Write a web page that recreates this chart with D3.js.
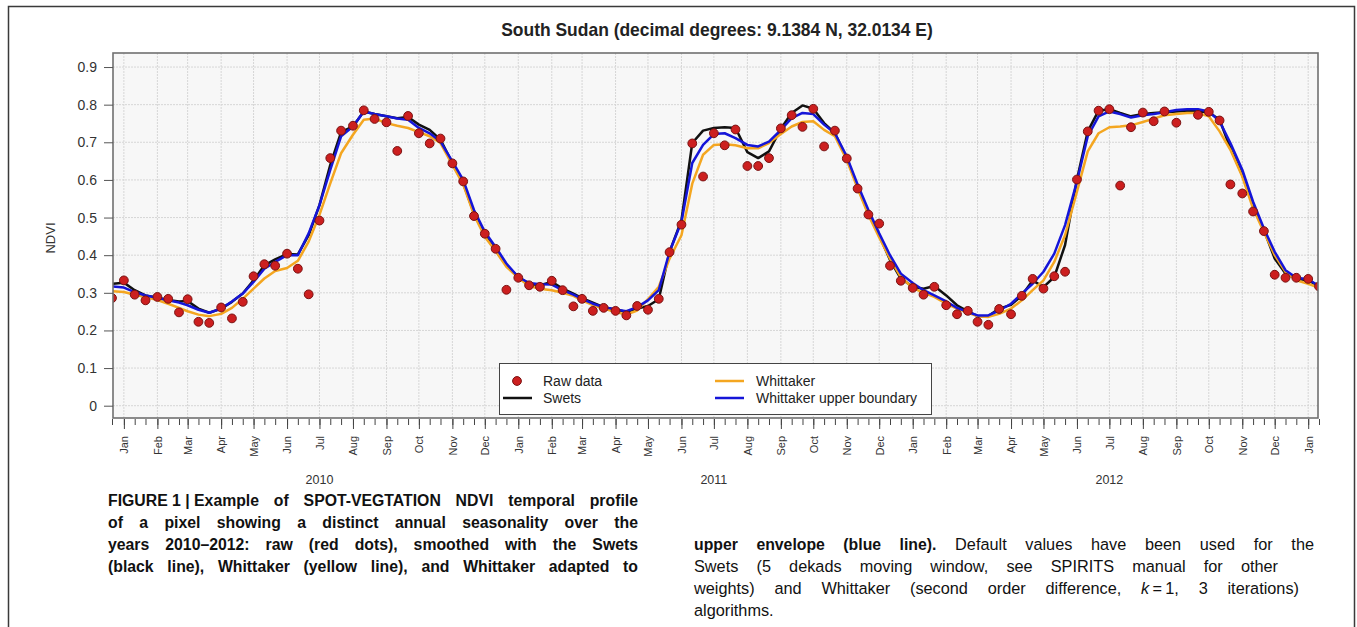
<!DOCTYPE html>
<html><head><meta charset="utf-8">
<script src="https://cdn.jsdelivr.net/npm/d3@7"></script>
<style>
html,body{margin:0;padding:0;background:#fff;}
svg{display:block;font-family:"Liberation Sans",Arial,Helvetica,sans-serif;}
</style></head><body>
<svg id="chart" width="1357" height="627"></svg>
<script>
// ---------------- DATA ----------------
const firstDekad = "2009-12-21";   // dekads: 21 Dec 2009 ... 11 Jan 2013
const chartTitle = "South Sudan (decimal degrees: 9.1384 N, 32.0134 E)";
const yLabel = "NDVI";
const yTicks = [0, 0.1, 0.2, 0.3, 0.4, 0.5, 0.6, 0.7, 0.8, 0.9];
const yearLabels = ["2010", "2011", "2012"];
const seriesNames = ["Raw data", "Swets", "Whittaker", "Whittaker upper boundary"];

const rawData = [0.286,
  0.333,0.295,0.280, 0.289,0.284,0.248, 0.283,0.223,0.220, 0.261,0.232,0.276,
  0.344,0.376,0.372, 0.404,0.364,0.296, 0.492,0.658,0.731, 0.744,0.785,0.762,
  0.753,0.677,0.770, 0.724,0.697,0.710, 0.644,0.596,0.504, 0.457,0.417,0.308,
  0.340,0.320,0.316, 0.332,0.307,0.264, 0.284,0.252,0.260, 0.252,0.240,0.265,
  0.255,0.284,0.408, 0.481,0.697,0.609, 0.724,0.692,0.734, 0.637,0.637,0.658,
  0.737,0.772,0.741, 0.789,0.689,0.731, 0.657,0.577,0.508, 0.484,0.372,0.332,
  0.313,0.295,0.316, 0.267,0.243,0.252, 0.223,0.215,0.257, 0.243,0.292,0.337,
  0.311,0.344,0.356, 0.601,0.729,0.784, 0.788,0.585,0.740, 0.779,0.756,0.782,
  0.752,null,0.773, 0.781,0.758,0.588, 0.564,0.516,0.464, 0.348,0.340,0.340,
  0.337,0.317];

const swets = [0.324,
  0.327,0.307,0.293, 0.287,0.281,0.277, 0.278,0.258,0.247, 0.258,0.276,0.298,
  0.333,0.373,0.389, 0.403,0.402,0.453, 0.533,0.640,0.727, 0.742,0.782,0.775,
  0.769,0.764,0.767, 0.747,0.733,0.707, 0.644,0.591,0.511, 0.453,0.413,0.373,
  0.342,0.324,0.320, 0.329,0.311,0.298, 0.286,0.274,0.262, 0.256,0.249,0.258,
  0.265,0.283,0.409, 0.493,0.698,0.731, 0.738,0.740,0.738, 0.674,0.658,0.676,
  0.736,0.778,0.798, 0.789,0.751,0.724, 0.658,0.582,0.511, 0.453,0.387,0.338,
  0.316,0.311,0.318, 0.293,0.267,0.251, 0.238,0.238,0.258, 0.268,0.293,0.333,
  0.315,0.342,0.427, 0.601,0.729,0.784, 0.788,0.778,0.769, 0.775,0.778,0.780,
  0.782,0.784,0.782, 0.780,0.760,0.684, 0.613,0.533,0.467, 0.391,0.351,0.338,
  0.333,0.318];

const whittaker = [0.304,
  0.302,0.295,0.289, 0.281,0.271,0.260, 0.251,0.242,0.238, 0.244,0.260,0.284,
  0.311,0.338,0.358, 0.366,0.385,0.436, 0.507,0.591,0.671, 0.720,0.760,0.763,
  0.751,0.744,0.738, 0.727,0.716,0.698, 0.640,0.588,0.507, 0.449,0.411,0.369,
  0.340,0.318,0.311, 0.307,0.300,0.292, 0.280,0.267,0.258, 0.249,0.242,0.253,
  0.283,0.316,0.391, 0.453,0.590,0.667, 0.693,0.695,0.692, 0.684,0.684,0.698,
  0.722,0.742,0.754, 0.756,0.733,0.716, 0.653,0.578,0.507, 0.447,0.391,0.342,
  0.313,0.300,0.289, 0.271,0.258,0.247, 0.238,0.236,0.244, 0.258,0.280,0.307,
  0.333,0.382,0.453, 0.569,0.676,0.724, 0.740,0.742,0.745, 0.754,0.763,0.772,
  0.775,0.778,0.778, 0.769,0.729,0.680, 0.609,0.524,0.462, 0.400,0.356,0.333,
  0.324,0.313];

const whittakerUpper = [0.317,
  0.314,0.302,0.293, 0.287,0.280,0.274, 0.267,0.255,0.247, 0.258,0.277,0.298,
  0.329,0.364,0.382, 0.400,0.400,0.458, 0.533,0.627,0.716, 0.742,0.782,0.775,
  0.769,0.763,0.760, 0.738,0.724,0.702, 0.649,0.600,0.520, 0.462,0.422,0.378,
  0.342,0.326,0.323, 0.322,0.307,0.295, 0.284,0.271,0.262, 0.256,0.251,0.262,
  0.280,0.307,0.409, 0.489,0.645,0.693, 0.722,0.724,0.711, 0.693,0.689,0.702,
  0.733,0.764,0.778, 0.775,0.747,0.724, 0.662,0.588,0.520, 0.458,0.400,0.351,
  0.326,0.307,0.293, 0.277,0.260,0.249, 0.240,0.240,0.253, 0.271,0.298,0.324,
  0.356,0.404,0.480, 0.596,0.716,0.769, 0.782,0.775,0.766, 0.772,0.775,0.780,
  0.786,0.788,0.788, 0.782,0.756,0.698, 0.627,0.542,0.471, 0.409,0.360,0.340,
  0.336,0.318];

const captionLeft = [
  [{t:"FIGURE 1 | ", b:1, fixed:1},{t:"Example of SPOT-VEGTATION NDVI temporal profile", b:1}],
  [{t:"of a pixel showing a distinct annual seasonality over the", b:1}],
  [{t:"years 2010–2012: raw (red dots), smoothed with the Swets", b:1}],
  [{t:"(black line), Whittaker (yellow line), and Whittaker adapted to", b:1}]
];
const captionRight = [
  [{t:"upper envelope (blue line).", b:1},{t:" Default values have been used for the"}],
  [{t:"Swets (5 dekads moving window, see SPIRITS manual for other"}],
  [{t:"weights) and Whittaker (second order difference, "},{t:"k", i:1},{t:"\u2009=\u20091, 3 iterations)"}],
  [{t:"algorithms."}]
];

// ---------------- BUILD DEKAD DATES ----------------
function dekadDates(start, n) {
  const out = [];
  const d = new Date(start + "T00:00:00Z");
  for (let i = 0; i < n; i++) {
    out.push(new Date(d.getTime()));
    const day = d.getUTCDate();
    if (day === 1) d.setUTCDate(11);
    else if (day === 11) d.setUTCDate(21);
    else d.setUTCMonth(d.getUTCMonth() + 1, 1);
  }
  return out;
}
const dates = dekadDates(firstDekad, rawData.length);
const series = (vals) => vals.map((v, i) => ({date: dates[i], v}));

// ---------------- LAYOUT ----------------
const svg = d3.select("#chart");
const P = {left: 113, right: 1318, top: 53, bottom: 418};

const x = d3.scaleUtc().domain([dates[0], dates[dates.length - 1]]).range([112, 1319]);
const y = d3.scaleLinear().domain([-0.0327, 0.9373]).range([P.bottom, P.top]);

// outer frame
svg.append("path").attr("d", `M8.5,627 L8.5,6.5 L1354.5,6.5 L1354.5,627`)
  .attr("fill", "none").attr("stroke", "#3a3a3a").attr("stroke-width", 1.5);

// title (fit to the reference width)
const title = svg.append("text").attr("x", 717).attr("y", 36).attr("text-anchor", "middle")
  .attr("font-weight", "bold").attr("font-size", 15).attr("fill", "#222").text(chartTitle);
{
  const nat = title.node().getComputedTextLength();
  title.attr("font-size", 15 * 432 / nat);
}

// plot background
svg.append("rect").attr("x", P.left).attr("y", P.top).attr("width", P.right - P.left)
  .attr("height", P.bottom - P.top).attr("fill", "#f7f7f7");

svg.append("clipPath").attr("id", "clip").append("rect")
  .attr("x", P.left).attr("y", P.top).attr("width", P.right - P.left).attr("height", P.bottom - P.top);

// grid
const months = d3.utcMonth.range(new Date(Date.UTC(2010, 0, 1)), x.domain()[1]);
const grid = svg.append("g").attr("clip-path", "url(#clip)");
grid.selectAll("line.v").data(months).join("line")
  .attr("x1", d => x(d)).attr("x2", d => x(d)).attr("y1", P.top).attr("y2", P.bottom)
  .attr("stroke", "#d6d6d6").attr("stroke-width", 1).attr("stroke-dasharray", "2,1");
grid.selectAll("line.h").data(yTicks).join("line")
  .attr("x1", P.left).attr("x2", P.right).attr("y1", d => y(d)).attr("y2", d => y(d))
  .attr("stroke", "#d6d6d6").attr("stroke-width", 1).attr("stroke-dasharray", "2,1");

// lines
const line = d3.line().defined(d => d.v != null).x(d => x(d.date)).y(d => y(d.v));
const plot = svg.append("g").attr("clip-path", "url(#clip)");
const lineStyles = [
  {data: swets, color: "#111111"},
  {data: whittaker, color: "#f4a620"},
  {data: whittakerUpper, color: "#1515d8"}
];
lineStyles.forEach(s => {
  plot.append("path").datum(series(s.data)).attr("d", line)
    .attr("fill", "none").attr("stroke", s.color).attr("stroke-width", 2.5)
    .attr("stroke-linejoin", "round").attr("stroke-linecap", "round");
});
plot.selectAll("circle").data(series(rawData).filter(d => d.v != null)).join("circle")
  .attr("cx", d => x(d.date)).attr("cy", d => y(d.v)).attr("r", 4.4)
  .attr("fill", "#cc1f1f").attr("stroke", "#7a1212").attr("stroke-width", 1);

// plot border
svg.append("rect").attr("x", P.left).attr("y", P.top).attr("width", P.right - P.left)
  .attr("height", P.bottom - P.top).attr("fill", "none").attr("stroke", "#707070").attr("stroke-width", 1.6);

// y axis
const yAxis = svg.append("g").attr("transform", `translate(${P.left},0)`)
  .call(d3.axisLeft(y).tickValues(yTicks).tickSize(9).tickPadding(7)
    .tickFormat(d => d === 0 ? "0" : d.toFixed(1)));
yAxis.select(".domain").remove();
yAxis.selectAll("line").attr("stroke", "#555");
yAxis.selectAll("text").attr("font-size", 14).attr("fill", "#333")
  .attr("font-family", "'Liberation Sans',Arial,sans-serif");

svg.append("text").attr("transform", "translate(55,238) rotate(-90)")
  .attr("text-anchor", "middle").attr("font-size", 13).attr("fill", "#333").text(yLabel);

// x axis: dekad minor ticks + month major ticks
const xMinor = svg.append("g").attr("transform", `translate(0,${P.bottom + 1})`)
  .call(d3.axisBottom(x).tickValues(dates).tickSize(6).tickFormat(""));
xMinor.select(".domain").remove();
xMinor.selectAll("line").attr("stroke", "#444");

const monthTicks = d3.utcMonth.range(new Date(Date.UTC(2010, 0, 1)), new Date(Date.UTC(2013, 0, 2)));
const xMajor = svg.append("g").attr("transform", `translate(0,${P.bottom + 1})`)
  .call(d3.axisBottom(x).tickValues(monthTicks).tickSize(10).tickFormat(d3.utcFormat("%b")));
xMajor.select(".domain").remove();
xMajor.selectAll("line").attr("stroke", "#444");
xMajor.selectAll("text")
  .attr("transform", "rotate(-90)").attr("x", -17).attr("y", 0).attr("dy", "0.35em")
  .attr("text-anchor", "end").attr("font-size", 11).attr("fill", "#333")
  .attr("font-family", "'Liberation Sans',Arial,sans-serif");

// year labels
svg.selectAll("text.year").data(yearLabels).join("text").attr("class", "year")
  .attr("x", d => x(new Date(Date.UTC(+d, 6, 1)))).attr("y", 484)
  .attr("text-anchor", "middle").attr("font-size", 12.5).attr("fill", "#333").text(d => d);

// legend
const lg = svg.append("g");
lg.append("rect").attr("x", 499.5).attr("y", 363.5).attr("width", 432).attr("height", 51)
  .attr("fill", "#fff").attr("stroke", "#444").attr("stroke-width", 1);
const legendItems = [
  {name: seriesNames[0], type: "dot", color: "#cc1f1f", lx: 503, tx: 543, cy: 381},
  {name: seriesNames[1], type: "line", color: "#111111", lx: 503, tx: 543, cy: 398},
  {name: seriesNames[2], type: "line", color: "#f4a620", lx: 715, tx: 756, cy: 381},
  {name: seriesNames[3], type: "line", color: "#1515d8", lx: 715, tx: 756, cy: 398}
];
legendItems.forEach(it => {
  if (it.type === "dot") {
    lg.append("circle").attr("cx", it.lx + 14).attr("cy", it.cy).attr("r", 4.4)
      .attr("fill", it.color).attr("stroke", "#7a1212");
  } else {
    lg.append("line").attr("x1", it.lx).attr("x2", it.lx + 29).attr("y1", it.cy).attr("y2", it.cy)
      .attr("stroke", it.color).attr("stroke-width", 2.5);
  }
  lg.append("text").attr("x", it.tx).attr("y", it.cy).attr("dy", "0.35em")
    .attr("font-size", 14).attr("fill", "#222").text(it.name);
});

// caption (justified lines: extra word spacing spread over the flexible segments)
function captionLine(segs, x0, yb, target) {
  const t = svg.append("text").attr("x", x0).attr("y", yb).attr("fill", "#111");
  const spans = segs.map(s => t.append("tspan").attr("font-weight", s.b ? "bold" : "normal")
      .attr("font-size", s.b ? 15.8 : 16.3)
      .attr("font-style", s.i ? "italic" : "normal").text(s.t));
  if (target) {
    const nat = t.node().getComputedTextLength();
    const n = segs.filter(s => !s.fixed).map(s => (s.t.match(/ /g) || []).length).reduce((a, b) => a + b, 0);
    const ws = n > 0 ? (target - nat) / n : 0;
    spans.forEach((sp, i) => sp.style("word-spacing", segs[i].fixed ? "0px" : ws + "px"));
  }
}
const leftBase = [506, 528, 550, 572];
captionLeft.forEach((segs, i) => captionLine(segs, 108, leftBase[i], 530));
const rightBase = [550, 572, 594, 616];
const rightWidths = [620, 584, 605, 0];
captionRight.forEach((segs, i) => captionLine(segs, 694, rightBase[i], rightWidths[i]));
</script>
</body></html>
